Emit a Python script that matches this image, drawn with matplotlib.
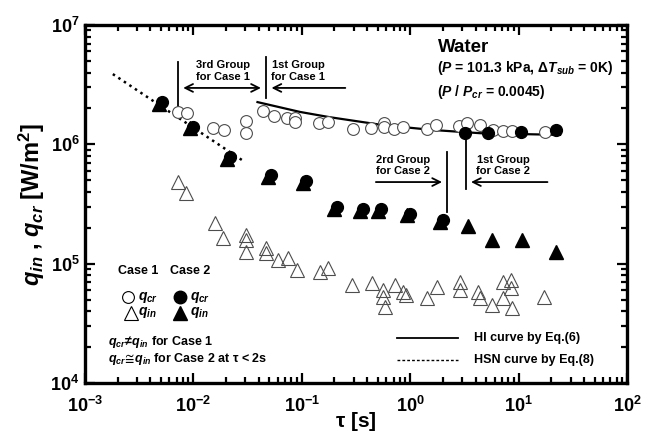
import numpy as np
import matplotlib.pyplot as plt
from matplotlib.ticker import LogLocator
from matplotlib.transforms import offset_copy

plt.rcParams['font.family'] = ['Liberation Sans', 'DejaVu Sans']
plt.rcParams['font.weight'] = 'bold'
plt.rcParams['mathtext.fontset'] = 'custom'
plt.rcParams['mathtext.rm'] = 'Liberation Sans:bold'
plt.rcParams['mathtext.bf'] = 'Liberation Sans:bold'
plt.rcParams['mathtext.it'] = 'Liberation Sans:bold:italic'

# Case 1: critical heat flux (open circles)
tau1_cr = [0.0072, 0.0087, 0.0152, 0.0191, 0.0305, 0.0305, 0.0438, 0.0555, 0.073, 0.0865,
           0.0865, 0.144, 0.175, 0.296, 0.434, 0.573, 0.573, 0.71, 0.86, 1.43,
           1.73, 2.82, 3.34, 4.4, 5.8, 7.2, 8.7, 17.5]
q1_cr = [1.87e6, 1.83e6, 1.37e6, 1.32e6, 1.57e6, 1.24e6, 1.90e6, 1.73e6, 1.66e6, 1.66e6,
         1.54e6, 1.51e6, 1.54e6, 1.34e6, 1.37e6, 1.51e6, 1.40e6, 1.34e6, 1.40e6, 1.34e6,
         1.45e6, 1.42e6, 1.51e6, 1.45e6, 1.32e6, 1.29e6, 1.29e6, 1.27e6]

# Case 1: initial heat flux (open triangles)
tau1_in = [0.0072, 0.00855, 0.0158, 0.0188, 0.0305, 0.0305, 0.0305, 0.0468, 0.0468, 0.060,
           0.0747, 0.0904, 0.147, 0.175, 0.290, 0.445, 0.561, 0.561, 0.586, 0.724,
           0.86, 0.915, 1.43, 1.77, 2.88, 2.88, 4.22, 4.4, 5.7, 7.2,
           7.2, 8.5, 8.5, 8.7, 17.1]
q1_in = [4.83e5, 3.91e5, 2.19e5, 1.64e5, 1.74e5, 1.58e5, 1.25e5, 1.35e5, 1.23e5, 1.07e5,
         1.11e5, 8.8e4, 8.5e4, 9.2e4, 6.6e4, 6.9e4, 6.0e4, 5.25e4, 4.33e4, 6.6e4,
         5.8e4, 5.5e4, 5.2e4, 6.4e4, 7.0e4, 6.0e4, 5.8e4, 5.2e4, 4.5e4, 7.0e4,
         5.2e4, 7.3e4, 6.3e4, 4.25e4, 5.25e4]

# Case 2: critical heat flux (filled circles)
tau2_cr = [0.0051, 0.0099, 0.0218, 0.052, 0.109, 0.211, 0.367, 0.538, 1.0, 2.0,
           3.2, 5.2, 10.5, 22.1]
q2_cr = [2.26e6, 1.40e6, 7.83e5, 5.53e5, 4.92e5, 2.98e5, 2.87e5, 2.87e5, 2.61e5, 2.32e5,
         1.24e6, 1.24e6, 1.27e6, 1.32e6]

# Case 2: initial heat flux (filled triangles)
tau2_in = [0.0051, 0.0099, 0.0218, 0.052, 0.109, 0.211, 0.367, 0.538, 1.0, 2.0,
           3.4, 5.7, 10.7, 22.1]
q2_in = [2.26e6, 1.40e6, 7.83e5, 5.53e5, 4.92e5, 2.98e5, 2.87e5, 2.87e5, 2.61e5, 2.32e5,
         2.07e5, 1.58e5, 1.58e5, 1.25e5]

# HI curve, Eq.(6)
tau_hi = [0.039, 0.096, 0.18, 0.56, 1.6, 4.4, 24.0]
q_hi = [2.26e6, 1.87e6, 1.69e6, 1.45e6, 1.32e6, 1.24e6, 1.20e6]

# HSN curve, Eq.(8)
tau_hsn = [0.00181, 0.0281]
q_hsn = [3.88e6, 7.38e5]

fig = plt.figure(figsize=(6.48, 4.36), dpi=100)
ax = fig.add_axes([0.131, 0.1216, 0.837, 0.821])
ax.set_xscale('log')
ax.set_yscale('log')
ax.set_xlim(1e-3, 1e2)
ax.set_ylim(1e4, 1e7)

ax.plot(tau_hi, q_hi, '-', color='black', lw=1.6, zorder=2)
ax.plot(tau_hsn, q_hsn, ':', color='black', lw=1.8, zorder=2)

ax.plot(tau1_cr, q1_cr, 'o', ms=8.5, mfc='white', mec='0.3', mew=0.8, zorder=3)
ax.plot(tau1_in, q1_in, '^', ms=9.5, mfc='none', mec='0.3', mew=0.8, zorder=3)

# where q_cr and q_in coincide the triangle sits just left of the circle
tau2_in = np.array(tau2_in)
q2_in = np.array(q2_in)
near = tau2_in < 2.5
shifted = offset_copy(ax.transData, fig=fig, x=-3.0, y=-1.5, units='dots')
ax.plot(tau2_in[near], q2_in[near], '^', ms=10, color='black', transform=shifted, zorder=4)
ax.plot(tau2_in[~near], q2_in[~near], '^', ms=9.5, color='black', zorder=4)
ax.plot(tau2_cr, q2_cr, 'o', ms=8.5, color='black', zorder=4)

# tick styling
for side in ax.spines.values():
    side.set_linewidth(2.4)
ax.tick_params(which='both', direction='in', top=True, right=True, width=1.6)
ax.tick_params(which='major', length=7, labelsize=13)
ax.tick_params(axis='x', which='major', pad=9)
ax.tick_params(axis='y', which='major', pad=4)
ax.tick_params(which='minor', length=4)
ax.xaxis.set_minor_locator(LogLocator(base=10, subs=np.arange(2, 10), numticks=20))
ax.yaxis.set_minor_locator(LogLocator(base=10, subs=np.arange(2, 10), numticks=20))

ax.set_xlabel(r'$\mathregular{\tau}$ [s]', fontsize=15, fontweight='bold', labelpad=-4)
ax.set_ylabel(r'$q_{in}$ , $q_{cr}$ [W/m$^2$]', fontsize=17, fontweight='bold', labelpad=2)

# group markers for Case 1
arrow_kw = dict(arrowstyle='->', color='black', lw=1.3, mutation_scale=14)
ax.plot([0.0072, 0.0072], [2.06e6, 4.9e6], color='black', lw=1.3)
ax.plot([0.0468, 0.0468], [2.44e6, 5.4e6], color='black', lw=1.3)
ax.annotate('', xy=(0.0076, 2.97e6), xytext=(0.0445, 2.97e6),
            arrowprops=dict(arrowstyle='<->', color='black', lw=1.3, mutation_scale=14))
ax.annotate('', xy=(0.0495, 2.97e6), xytext=(0.267, 2.97e6), arrowprops=arrow_kw)
ax.text(0.0188, 3.35e6, '3rd Group\nfor Case 1', ha='center', va='bottom',
        fontsize=8, fontweight='bold', linespacing=1.15)
ax.text(0.092, 3.35e6, '1st Group\nfor Case 1', ha='center', va='bottom',
        fontsize=8, fontweight='bold', linespacing=1.15)

# group markers for Case 2
ax.plot([2.18, 2.18], [2.71e5, 8.6e5], color='black', lw=1.3)
ax.plot([3.27, 3.27], [4.22e5, 1.09e6], color='black', lw=1.3)
ax.annotate('', xy=(2.08, 4.83e5), xytext=(0.454, 4.83e5), arrowprops=arrow_kw)
ax.annotate('', xy=(3.42, 4.83e5), xytext=(19.5, 4.83e5), arrowprops=arrow_kw)
ax.text(0.86, 5.45e5, '2rd Group\nfor Case 2', ha='center', va='bottom',
        fontsize=8, fontweight='bold', linespacing=1.15)
ax.text(7.2, 5.45e5, '1st Group\nfor Case 2', ha='center', va='bottom',
        fontsize=8, fontweight='bold', linespacing=1.15)

# conditions
ax.text(0.651, 0.9385, 'Water', transform=ax.transAxes, fontsize=13.5,
        fontweight='bold', va='center')
ax.text(0.649, 0.88, r'($P$ = 101.3 kPa, $\Delta T_{sub}$ = 0K)', transform=ax.transAxes,
        fontsize=10, fontweight='bold', va='center')
ax.text(0.649, 0.813, r'($P$ / $P_{cr}$ = 0.0045)', transform=ax.transAxes,
        fontsize=10, fontweight='bold', va='center')

# symbol key
ta = ax.transAxes
ax.text(0.061, 0.313, 'Case 1', transform=ta, fontsize=9, fontweight='bold', va='center')
ax.text(0.157, 0.313, 'Case 2', transform=ta, fontsize=9, fontweight='bold', va='center')
ax.plot([0.079], [0.240], 'o', ms=8.5, mfc='white', mec='black', mew=0.8, transform=ta)
ax.plot([0.175], [0.240], 'o', ms=9, color='black', transform=ta)
ax.plot([0.085], [0.196], '^', ms=9.5, mfc='none', mec='black', mew=0.8, transform=ta)
ax.plot([0.175], [0.196], '^', ms=9.5, color='black', transform=ta)
for x0 in (0.098, 0.193):
    ax.text(x0, 0.240, r'$q_{cr}$', transform=ta, fontsize=10, va='center')
    ax.text(x0, 0.196, r'$q_{in}$', transform=ta, fontsize=10, va='center')
ax.text(0.042, 0.1145, r'$q_{cr}\!\neq\! q_{in}$ for Case 1', transform=ta,
        fontsize=9, fontweight='bold', va='center')
ax.text(0.042, 0.067, r'$q_{cr}\!\cong\! q_{in}$ for Case 2 at $\mathregular{\tau}$ < 2s',
        transform=ta, fontsize=9, fontweight='bold', va='center')

# line key
ax.plot([0.576, 0.688], [0.126, 0.126], '-', color='black', lw=1.3, transform=ta)
ax.plot([0.576, 0.688], [0.064, 0.064], '--', color='black', lw=1.0,
        dashes=(2, 1.5), transform=ta)
ax.text(0.718, 0.126, 'HI curve by Eq.(6)', transform=ta, fontsize=9,
        fontweight='bold', va='center')
ax.text(0.718, 0.064, 'HSN curve by Eq.(8)', transform=ta, fontsize=9,
        fontweight='bold', va='center')

fig.savefig('out.png', dpi=100)
